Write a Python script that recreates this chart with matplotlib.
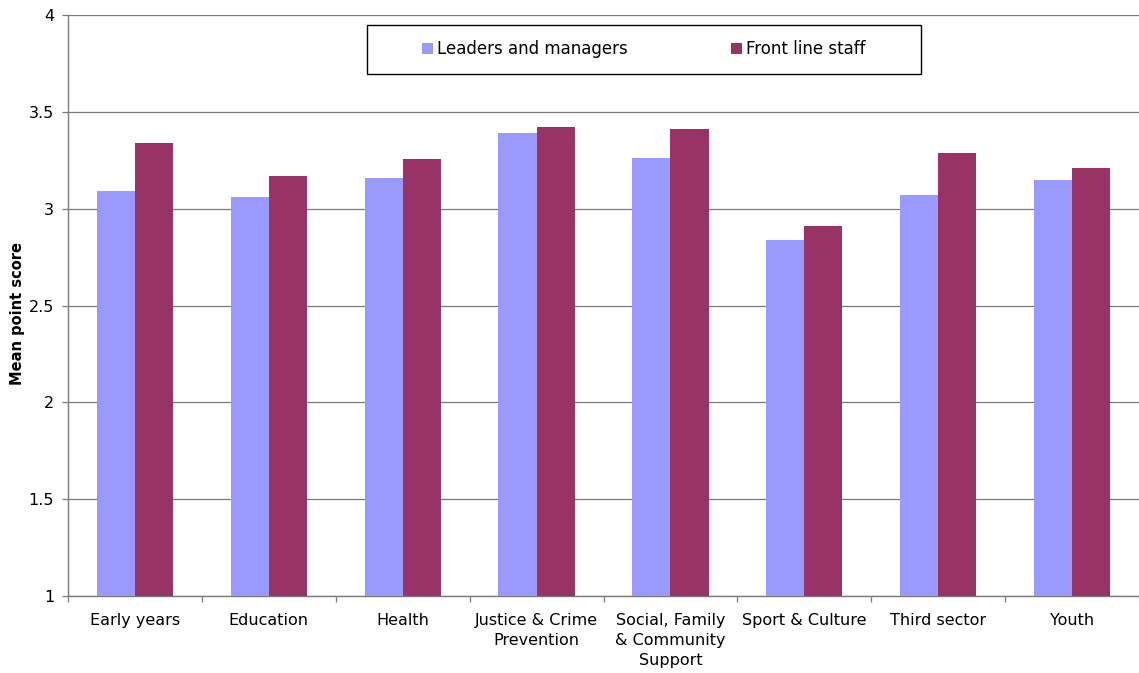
import matplotlib
matplotlib.use("Agg")
import matplotlib.pyplot as plt
import numpy as np
from matplotlib.patches import Rectangle, Patch

plt.rcParams["font.family"] = ["DejaVu Sans"]

categories = ["Early years", "Education", "Health", "Justice & Crime\nPrevention",
              "Social, Family\n& Community\nSupport", "Sport & Culture", "Third sector", "Youth"]
leaders = [3.09, 3.06, 3.16, 3.39, 3.26, 2.84, 3.07, 3.15]
front_line = [3.34, 3.17, 3.255, 3.42, 3.41, 2.91, 3.29, 3.21]
series_names = ["Leaders and managers", "Front line staff"]
colors = ["#9999FF", "#993366"]

W, H = 1139, 673
fig = plt.figure(figsize=(W / 100, H / 100), dpi=100)
ax = fig.add_axes([68 / W, 1 - 596 / H, (1139 - 68) / W, (596 - 15) / H])

x = np.arange(len(categories))
bw = 0.285
ax.bar(x - bw / 2, leaders, bw, color=colors[0], zorder=3)
ax.bar(x + bw / 2, front_line, bw, color=colors[1], zorder=3)

ax.set_xlim(-0.5, len(categories) - 0.5)
ax.set_ylim(1, 4)
ax.set_yticks([1, 1.5, 2, 2.5, 3, 3.5, 4])
ax.set_yticklabels(["1", "1.5", "2", "2.5", "3", "3.5", "4"])
ax.yaxis.grid(True, color="#7a7a7a", linewidth=0.9, zorder=0)
ax.set_axisbelow(True)

ax.set_xticks(x)
ax.set_xticklabels(categories, fontsize=11.5, linespacing=1.42)
ax.set_xticks(np.arange(-0.5, len(categories)), minor=True)
ax.tick_params(axis="x", which="major", length=0, pad=12)
ax.tick_params(axis="x", which="minor", length=4, color="#7a7a7a", width=0.9)
ax.tick_params(axis="y", length=4.5, color="#7a7a7a", width=0.9, labelsize=11.5, pad=5.5)

for s in ["top", "right"]:
    ax.spines[s].set_visible(False)
for s in ["left", "bottom"]:
    ax.spines[s].set_color("#7a7a7a")
    ax.spines[s].set_linewidth(1.0)

ax.set_ylabel("Mean point score", fontsize=10.5, fontweight="bold", labelpad=2)
ax.yaxis.set_label_coords(-0.0467, 0.487)
ax.yaxis.label.set_verticalalignment("center")

# legend frame
fig.patches.append(Rectangle((367 / W, 1 - 74 / H), (921 - 367) / W, (74 - 25) / H,
                             transform=fig.transFigure, facecolor="white",
                             edgecolor="black", linewidth=1, zorder=5))
handles = [Patch(facecolor=c, edgecolor="none") for c in colors]
leg = fig.legend(handles, series_names, loc="center",
                 bbox_to_anchor=((367 + 921) / 2 / W, 1 - 49.5 / H),
                 ncol=2, frameon=False, fontsize=12, handlelength=0.65,
                 handleheight=0.65, handletextpad=0.25, columnspacing=6.2)
leg.set_zorder(6)

fig.savefig("out.png", dpi=100)
